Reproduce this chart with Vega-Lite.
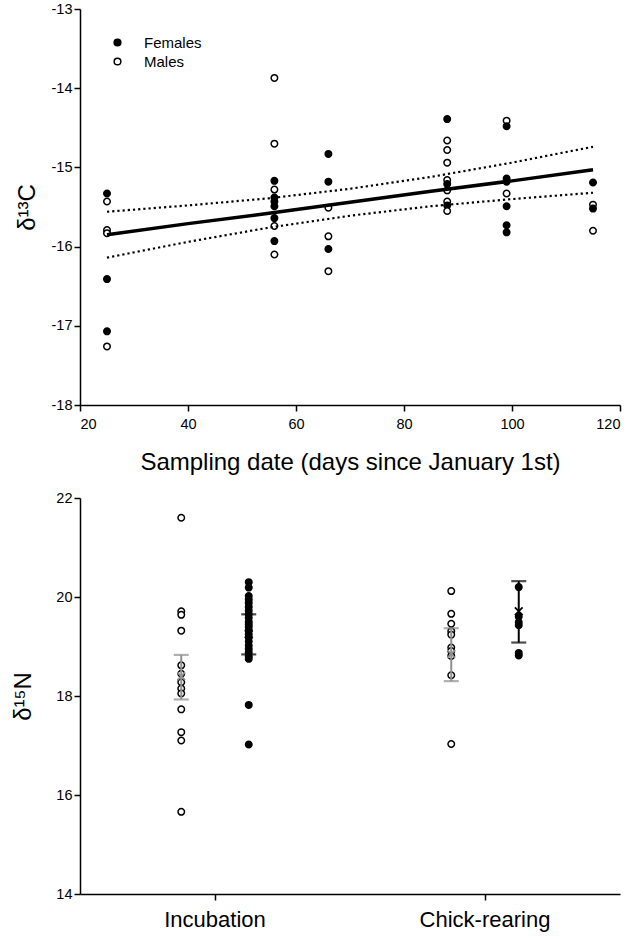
{
  "$schema": "https://vega.github.io/schema/vega-lite/v6.json",
  "background": "white",
  "padding": {"left": 11, "top": 1, "right": 5, "bottom": 5},
  "bounds": "flush",
  "spacing": 93,
  "config": {
    "view": {"stroke": null},
    "font": "Liberation Sans",
    "axis": {"domainColor": "black", "domainWidth": 1.5, "tickColor": "black", "tickWidth": 1.5, "tickSize": 6, "labelColor": "black", "labelFontSize": 14.5, "titleColor": "black", "titleFontWeight": "normal", "grid": false, "labelFont": "Liberation Sans", "titleFont": "Liberation Sans"}
  },
  "resolve": {"scale": {"fill": "independent", "color": "independent"}, "legend": {"fill": "independent", "color": "independent"}},
  "datasets": {
    "d13c": [
      {"day": 25, "sex": "Females", "value": -15.33},
      {"day": 25, "sex": "Males", "value": -15.43},
      {"day": 25, "sex": "Males", "value": -15.79},
      {"day": 25, "sex": "Males", "value": -15.83},
      {"day": 25, "sex": "Females", "value": -16.41},
      {"day": 25, "sex": "Females", "value": -17.07},
      {"day": 25, "sex": "Males", "value": -17.26},
      {"day": 56, "sex": "Males", "value": -13.87},
      {"day": 56, "sex": "Males", "value": -14.70},
      {"day": 56, "sex": "Females", "value": -15.17},
      {"day": 56, "sex": "Males", "value": -15.28},
      {"day": 56, "sex": "Females", "value": -15.38},
      {"day": 56, "sex": "Females", "value": -15.43},
      {"day": 56, "sex": "Females", "value": -15.49},
      {"day": 56, "sex": "Females", "value": -15.64},
      {"day": 56, "sex": "Males", "value": -15.74},
      {"day": 56, "sex": "Females", "value": -15.93},
      {"day": 56, "sex": "Males", "value": -16.10},
      {"day": 66, "sex": "Females", "value": -14.83},
      {"day": 66, "sex": "Females", "value": -15.18},
      {"day": 66, "sex": "Males", "value": -15.51},
      {"day": 66, "sex": "Males", "value": -15.87},
      {"day": 66, "sex": "Females", "value": -16.03},
      {"day": 66, "sex": "Males", "value": -16.31},
      {"day": 88, "sex": "Females", "value": -14.39},
      {"day": 88, "sex": "Males", "value": -14.66},
      {"day": 88, "sex": "Males", "value": -14.78},
      {"day": 88, "sex": "Males", "value": -14.94},
      {"day": 88, "sex": "Males", "value": -15.16},
      {"day": 88, "sex": "Females", "value": -15.21},
      {"day": 88, "sex": "Males", "value": -15.29},
      {"day": 88, "sex": "Males", "value": -15.43},
      {"day": 88, "sex": "Females", "value": -15.48},
      {"day": 88, "sex": "Males", "value": -15.55},
      {"day": 99, "sex": "Males", "value": -14.41},
      {"day": 99, "sex": "Females", "value": -14.48},
      {"day": 99, "sex": "Females", "value": -15.14},
      {"day": 99, "sex": "Females", "value": -15.18},
      {"day": 99, "sex": "Males", "value": -15.33},
      {"day": 99, "sex": "Females", "value": -15.49},
      {"day": 99, "sex": "Females", "value": -15.73},
      {"day": 99, "sex": "Females", "value": -15.82},
      {"day": 115, "sex": "Females", "value": -15.19},
      {"day": 115, "sex": "Males", "value": -15.47},
      {"day": 115, "sex": "Females", "value": -15.52},
      {"day": 115, "sex": "Males", "value": -15.80}
    ],
    "fit": [
      {"day": 25, "fit": -15.85, "lo": -16.14, "hi": -15.56},
      {"day": 40, "fit": -15.71, "lo": -15.94, "hi": -15.48},
      {"day": 55, "fit": -15.58, "lo": -15.76, "hi": -15.39},
      {"day": 70, "fit": -15.44, "lo": -15.61, "hi": -15.27},
      {"day": 85, "fit": -15.30, "lo": -15.49, "hi": -15.12},
      {"day": 100, "fit": -15.17, "lo": -15.40, "hi": -14.94},
      {"day": 115, "fit": -15.03, "lo": -15.32, "hi": -14.74}
    ],
    "d15n": [
      {"stage": "Incubation", "sex": "Males", "value": 21.60},
      {"stage": "Incubation", "sex": "Males", "value": 19.71},
      {"stage": "Incubation", "sex": "Males", "value": 19.64},
      {"stage": "Incubation", "sex": "Males", "value": 19.32},
      {"stage": "Incubation", "sex": "Males", "value": 18.62},
      {"stage": "Incubation", "sex": "Males", "value": 18.45},
      {"stage": "Incubation", "sex": "Males", "value": 18.28},
      {"stage": "Incubation", "sex": "Males", "value": 18.15},
      {"stage": "Incubation", "sex": "Males", "value": 18.05},
      {"stage": "Incubation", "sex": "Males", "value": 17.73},
      {"stage": "Incubation", "sex": "Males", "value": 17.27},
      {"stage": "Incubation", "sex": "Males", "value": 17.10},
      {"stage": "Incubation", "sex": "Males", "value": 15.66},
      {"stage": "Incubation", "sex": "Females", "value": 20.30},
      {"stage": "Incubation", "sex": "Females", "value": 20.19},
      {"stage": "Incubation", "sex": "Females", "value": 20.02},
      {"stage": "Incubation", "sex": "Females", "value": 19.95},
      {"stage": "Incubation", "sex": "Females", "value": 19.88},
      {"stage": "Incubation", "sex": "Females", "value": 19.80},
      {"stage": "Incubation", "sex": "Females", "value": 19.72},
      {"stage": "Incubation", "sex": "Females", "value": 19.65},
      {"stage": "Incubation", "sex": "Females", "value": 19.58},
      {"stage": "Incubation", "sex": "Females", "value": 19.50},
      {"stage": "Incubation", "sex": "Females", "value": 19.45},
      {"stage": "Incubation", "sex": "Females", "value": 19.40},
      {"stage": "Incubation", "sex": "Females", "value": 19.33},
      {"stage": "Incubation", "sex": "Females", "value": 19.25},
      {"stage": "Incubation", "sex": "Females", "value": 19.18},
      {"stage": "Incubation", "sex": "Females", "value": 19.10},
      {"stage": "Incubation", "sex": "Females", "value": 19.02},
      {"stage": "Incubation", "sex": "Females", "value": 18.95},
      {"stage": "Incubation", "sex": "Females", "value": 18.88},
      {"stage": "Incubation", "sex": "Females", "value": 18.80},
      {"stage": "Incubation", "sex": "Females", "value": 18.75},
      {"stage": "Incubation", "sex": "Females", "value": 17.82},
      {"stage": "Incubation", "sex": "Females", "value": 17.02},
      {"stage": "Chick-rearing", "sex": "Males", "value": 20.12},
      {"stage": "Chick-rearing", "sex": "Males", "value": 19.66},
      {"stage": "Chick-rearing", "sex": "Males", "value": 19.46},
      {"stage": "Chick-rearing", "sex": "Males", "value": 19.31},
      {"stage": "Chick-rearing", "sex": "Males", "value": 19.24},
      {"stage": "Chick-rearing", "sex": "Males", "value": 18.98},
      {"stage": "Chick-rearing", "sex": "Males", "value": 18.91},
      {"stage": "Chick-rearing", "sex": "Males", "value": 18.81},
      {"stage": "Chick-rearing", "sex": "Males", "value": 18.42},
      {"stage": "Chick-rearing", "sex": "Males", "value": 17.03},
      {"stage": "Chick-rearing", "sex": "Females", "value": 20.20},
      {"stage": "Chick-rearing", "sex": "Females", "value": 19.60},
      {"stage": "Chick-rearing", "sex": "Females", "value": 19.49},
      {"stage": "Chick-rearing", "sex": "Females", "value": 19.43},
      {"stage": "Chick-rearing", "sex": "Females", "value": 18.87},
      {"stage": "Chick-rearing", "sex": "Females", "value": 18.82}
    ],
    "summary": [
      {"stage": "Incubation", "sex": "Males", "mean": 18.40, "lo": 17.93, "hi": 18.83},
      {"stage": "Incubation", "sex": "Females", "mean": 19.25, "lo": 18.84, "hi": 19.65},
      {"stage": "Chick-rearing", "sex": "Males", "mean": 18.85, "lo": 18.30, "hi": 19.37},
      {"stage": "Chick-rearing", "sex": "Females", "mean": 19.71, "lo": 19.08, "hi": 20.32}
    ]
  },
  "vconcat": [
    {
      "width": 540,
      "height": 396,
      "layer": [
        {
          "data": {"name": "d13c"},
          "mark": {"type": "point", "shape": "circle", "filled": true, "size": 42, "stroke": "black", "strokeWidth": 1.5, "opacity": 1},
          "encoding": {
            "x": {"field": "day", "type": "quantitative", "scale": {"domain": [20, 120], "nice": false, "zero": false},
                  "axis": {"values": [20, 40, 60, 80, 100, 120], "title": "Sampling date (days since January 1st)", "titleFontSize": 24, "titlePadding": 20, "labelPadding": 6}},
            "y": {"field": "value", "type": "quantitative", "scale": {"domain": [-18, -13], "nice": false, "zero": false},
                  "axis": {"values": [-18, -17, -16, -15, -14, -13], "labelExpr": "datum.value + ''", "title": "δ¹³C", "titleFontSize": 24, "titlePadding": 12}},
            "fill": {"field": "sex", "type": "nominal", "scale": {"domain": ["Females", "Males"], "range": ["black", "white"]},
                     "legend": {"title": null, "orient": "none", "legendX": 30, "legendY": 26, "symbolType": "circle", "symbolSize": 45, "symbolStrokeColor": "black", "symbolStrokeWidth": 1.5, "labelFontSize": 15, "labelColor": "black", "labelOffset": 19, "rowPadding": 3}}
          }
        },
        {
          "data": {"name": "fit"},
          "mark": {"type": "line", "color": "black", "strokeWidth": 3.5},
          "encoding": {"x": {"field": "day", "type": "quantitative"}, "y": {"field": "fit", "type": "quantitative"}}
        },
        {
          "data": {"name": "fit"},
          "mark": {"type": "line", "color": "black", "strokeWidth": 2.2, "strokeDash": [2.2, 3]},
          "encoding": {"x": {"field": "day", "type": "quantitative"}, "y": {"field": "lo", "type": "quantitative"}}
        },
        {
          "data": {"name": "fit"},
          "mark": {"type": "line", "color": "black", "strokeWidth": 2.2, "strokeDash": [2.2, 3]},
          "encoding": {"x": {"field": "day", "type": "quantitative"}, "y": {"field": "hi", "type": "quantitative"}}
        }
      ]
    },
    {
      "width": 540,
      "height": 396,
      "layer": [
        {
          "data": {"name": "d15n"},
          "mark": {"type": "point", "shape": "circle", "filled": true, "size": 42, "stroke": "black", "strokeWidth": 1.5, "opacity": 1},
          "encoding": {
            "x": {"field": "stage", "type": "nominal", "sort": ["Incubation", "Chick-rearing"], "scale": {"domain": ["Incubation", "Chick-rearing"], "paddingInner": 0, "paddingOuter": 0},
                  "axis": {"title": null, "labelAngle": 0, "labelFontSize": 22, "labelPadding": 9}},
            "xOffset": {"field": "sex", "type": "nominal", "scale": {"domain": ["Males", "Females"], "paddingInner": 0, "paddingOuter": 1.5}},
            "y": {"field": "value", "type": "quantitative", "scale": {"domain": [14, 22], "nice": false, "zero": false},
                  "axis": {"values": [14, 16, 18, 20, 22], "title": "δ¹⁵N", "titleFontSize": 24, "titlePadding": 20}},
            "fill": {"field": "sex", "type": "nominal", "scale": {"domain": ["Females", "Males"], "range": ["black", "white"]}, "legend": null}
          }
        },
        {
          "data": {"name": "summary"},
          "mark": {"type": "rule", "strokeWidth": 2},
          "encoding": {
            "x": {"field": "stage", "type": "nominal"},
            "xOffset": {"field": "sex", "type": "nominal"},
            "y": {"field": "lo", "type": "quantitative"},
            "y2": {"field": "hi"},
            "color": {"field": "sex", "type": "nominal", "scale": {"domain": ["Females", "Males"], "range": ["black", "#8f8f8f"]}, "legend": null}
          }
        },
        {
          "data": {"name": "summary"},
          "mark": {"type": "tick", "orient": "horizontal", "size": 15, "thickness": 2.2},
          "encoding": {
            "x": {"field": "stage", "type": "nominal"},
            "xOffset": {"field": "sex", "type": "nominal"},
            "y": {"field": "lo", "type": "quantitative"},
            "color": {"field": "sex", "type": "nominal", "legend": null}
          }
        },
        {
          "data": {"name": "summary"},
          "mark": {"type": "tick", "orient": "horizontal", "size": 15, "thickness": 2.2},
          "encoding": {
            "x": {"field": "stage", "type": "nominal"},
            "xOffset": {"field": "sex", "type": "nominal"},
            "y": {"field": "hi", "type": "quantitative"},
            "color": {"field": "sex", "type": "nominal", "legend": null}
          }
        },
        {
          "data": {"name": "summary"},
          "mark": {"type": "point", "shape": "M-1,-1L1,1M-1,1L1,-1", "filled": false, "size": 60, "strokeWidth": 1.8, "opacity": 1},
          "encoding": {
            "x": {"field": "stage", "type": "nominal"},
            "xOffset": {"field": "sex", "type": "nominal"},
            "y": {"field": "mean", "type": "quantitative"},
            "color": {"field": "sex", "type": "nominal", "legend": null}
          }
        }
      ]
    }
  ]
}
